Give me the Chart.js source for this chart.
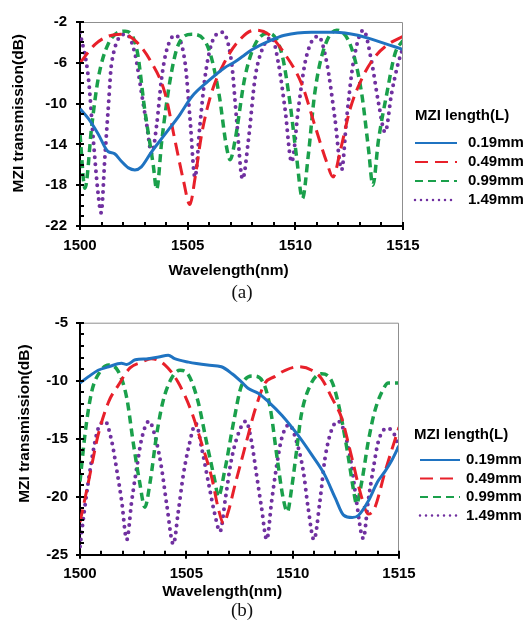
<!DOCTYPE html>
<html>
<head>
<meta charset="utf-8">
<script src="https://cdn.jsdelivr.net/npm/chart.js@4.4.1/dist/chart.umd.min.js"></script>
<style>
  body { margin: 0; background: #fff; width: 529px; height: 632px; position: relative; overflow: hidden; }
  canvas { position: absolute; left: 0; }
  #figA { top: 0; }
  #figB { top: 300px; }
  .cap { position: absolute; left: 211px; width: 62px; text-align: center;
         font: 19px/22px "Liberation Serif", "DejaVu Serif", serif; color: #111; }
</style>
</head>
<body>
<canvas id="figA" width="529" height="282"></canvas>
<canvas id="figB" width="529" height="300"></canvas>
<div class="cap" style="top:281px">(a)</div>
<div class="cap" style="top:599px">(b)</div>
<script>
const FONT = '"Liberation Sans", Arial, sans-serif';
const lengths = ['0.19mm', '0.49mm', '0.99mm', '1.49mm'];

// (a) wavelength (nm), transmission (dB)
const a019 = [[1500,-10.5],[1500.4,-11.5],[1500.85,-13.0],[1501.3,-14.7],[1501.6,-14.9],[1501.9,-15.6],
  [1502.25,-16.3],[1502.55,-16.5],[1502.85,-16.2],[1503.3,-14.8],[1503.95,-13.0],[1504.6,-11.2],
  [1505.2,-9.3],[1505.95,-7.8],[1506.7,-6.5],[1507.2,-5.9],[1507.6,-5.3],[1508.0,-4.7],[1508.75,-3.9],
  [1509.5,-3.3],[1510.75,-3.0],[1511.85,-3.0],[1512.9,-3.3],[1513.85,-3.9],[1515,-4.7]];
const a049 = [[1500,-6.0],[1500.7,-4.2],[1501.3,-3.4],[1501.9,-3.2],[1502.55,-3.8],[1503.3,-5.9],
  [1503.95,-9.0],[1504.4,-13.5],[1504.8,-17.5],[1505.1,-19.9],[1505.35,-17.2],[1505.65,-13.0],
  [1506.1,-9.0],[1506.7,-6.0],[1507.35,-3.9],[1508.1,-2.8],[1508.75,-3.2],[1509.5,-5.1],[1510.3,-8.1],
  [1510.9,-12.1],[1511.45,-15.7],[1511.75,-17.2],[1512.1,-14.5],[1512.55,-10.5],[1513.1,-7.5],
  [1513.7,-5.4],[1514.3,-4.2],[1515,-3.4]];
const a099 = [[1500,-13.0],[1500.23,-18.3],[1500.55,-12.1],[1500.85,-7.5],[1501.3,-4.2],[1502.1,-2.9],
  [1502.65,-4.8],[1503.0,-10.5],[1503.4,-16.0],[1503.56,-18.4],[1503.8,-13.6],[1504.2,-7.5],[1504.57,-4.2],
  [1505.2,-3.2],[1505.95,-4.5],[1506.45,-9.0],[1506.8,-14.2],[1506.97,-15.5],[1507.2,-13.6],[1507.65,-7.5],
  [1508.13,-4.2],[1508.75,-3.1],[1509.37,-5.1],[1509.75,-9.9],[1510.05,-15.1],[1510.33,-19.3],[1510.6,-15.1],
  [1510.9,-9.0],[1511.3,-4.8],[1511.92,-2.8],[1512.6,-4.5],[1513.08,-9.0],[1513.4,-14.5],[1513.6,-18.0],
  [1513.86,-13.6],[1514.25,-9.0],[1514.63,-5.1],[1515,-3.8]];
const a149 = [[1500,-3.0],[1500.39,-7.5],[1500.62,-13.6],[1500.85,-19.0],[1500.98,-20.7],[1501.16,-15.1],
  [1501.31,-10.5],[1501.47,-6.0],[1502.15,-3.2],[1502.55,-5.1],[1502.86,-9.0],[1503.1,-12.1],[1503.33,-14.9],
  [1503.56,-12.1],[1503.79,-7.5],[1504.02,-4.8],[1504.41,-3.3],[1504.88,-6.0],[1505.11,-11.5],[1505.34,-17.2],
  [1505.57,-12.1],[1505.8,-7.5],[1506.1,-4.2],[1506.58,-3.0],[1507.04,-6.0],[1507.27,-11.5],[1507.55,-17.4],
  [1507.82,-13.6],[1508.13,-7.5],[1508.44,-4.8],[1508.9,-3.5],[1509.21,-6.0],[1509.52,-10.5],[1509.83,-15.7],
  [1510.14,-10.5],[1510.45,-6.0],[1510.76,-3.9],[1511.07,-3.4],[1511.46,-6.0],[1511.84,-11.5],[1512.15,-16.5],
  [1512.38,-11.5],[1512.69,-6.0],[1513.16,-2.8],[1513.55,-6.0],[1513.86,-9.9],[1514.17,-12.8],[1514.47,-9.0],
  [1514.78,-6.0],[1515,-4.5]];

// (b)
const b019 = [[1500,-10.2],[1500.4,-9.65],[1500.85,-9.1],[1501.35,-8.8],[1501.95,-8.5],[1502.2,-8.6],
  [1502.6,-8.2],[1503.2,-8.1],[1503.7,-7.95],[1504.15,-7.8],[1504.45,-8.1],[1505.1,-8.4],[1506.0,-8.65],
  [1506.65,-8.8],[1507.15,-9.4],[1507.65,-10.2],[1507.9,-10.65],[1508.4,-11.1],[1508.85,-11.8],[1509.5,-13.0],
  [1510.25,-14.7],[1510.9,-16.4],[1511.5,-18.1],[1512.0,-20.1],[1512.4,-21.6],[1512.8,-21.8],[1513.1,-21.6],
  [1513.55,-20.4],[1514.0,-18.7],[1514.35,-17.8],[1514.65,-16.9],[1515,-15.6]];
const b049 = [[1500,-22.2],[1500.4,-18.7],[1500.85,-14.7],[1501.35,-11.8],[1501.8,-10.4],[1502.35,-8.9],
  [1502.9,-8.4],[1503.35,-8.1],[1504.0,-8.65],[1504.6,-10.1],[1505.25,-12.7],[1505.7,-15.3],[1506.2,-18.4],
  [1506.5,-21.0],[1506.75,-22.3],[1506.97,-21.3],[1507.3,-18.9],[1507.75,-15.8],[1508.25,-12.4],[1508.7,-10.2],
  [1509.15,-9.65],[1509.65,-9.1],[1510.25,-8.8],[1510.9,-9.1],[1511.35,-9.8],[1511.85,-11.5],[1512.3,-13.2],
  [1512.75,-16.4],[1513.25,-20.1],[1513.55,-21.5],[1513.85,-21.0],[1514.35,-17.8],[1515,-14.0]];
const b099 = [[1500,-18.7],[1500.25,-14.4],[1500.55,-10.95],[1500.95,-9.2],[1501.35,-8.65],[1501.8,-9.2],
  [1502.2,-11.5],[1502.5,-15.3],[1502.8,-18.7],[1503.05,-20.9],[1503.3,-18.7],[1503.6,-14.7],[1503.9,-11.8],
  [1504.3,-9.8],[1504.7,-9.1],[1505.1,-9.5],[1505.55,-11.8],[1505.95,-15.3],[1506.35,-18.7],[1506.5,-20.0],
  [1506.8,-17.8],[1507.25,-13.3],[1507.6,-10.4],[1508.15,-9.6],[1508.6,-10.1],[1508.95,-12.4],[1509.25,-16.4],
  [1509.55,-20.1],[1509.75,-21.3],[1509.95,-19.3],[1510.2,-15.8],[1510.4,-13.0],[1510.8,-10.5],[1511.35,-9.4],
  [1511.85,-10.1],[1512.2,-12.4],[1512.6,-16.4],[1512.85,-19.3],[1513.0,-20.6],[1513.25,-18.7],[1513.55,-15.3],
  [1513.85,-12.7],[1514.2,-10.95],[1514.5,-10.2],[1515,-10.2]];
const b149 = [[1500,-24.3],[1500.15,-22.0],[1500.39,-18.7],[1500.7,-15.3],[1500.86,-14.1],[1501.18,-13.5],
  [1501.5,-15.3],[1501.72,-17.6],[1501.96,-20.4],[1502.2,-23.7],[1502.43,-20.4],[1502.66,-17.6],[1502.9,-15.0],
  [1503.24,-13.5],[1503.6,-15.3],[1503.84,-17.6],[1504.08,-20.7],[1504.39,-24.1],[1504.62,-21.3],[1504.86,-18.1],
  [1505.1,-15.8],[1505.45,-13.7],[1505.72,-15.8],[1506.03,-18.7],[1506.35,-21.6],[1506.58,-23.0],[1506.85,-20.0],
  [1507.1,-17.0],[1507.4,-14.8],[1507.8,-13.5],[1508.07,-15.3],[1508.3,-18.1],[1508.54,-21.0],[1508.78,-23.7],
  [1509.01,-20.4],[1509.25,-17.3],[1509.48,-15.0],[1509.83,-13.8],[1510.19,-15.3],[1510.5,-17.8],[1510.73,-21.0],
  [1511.0,-23.7],[1511.28,-20.4],[1511.52,-16.7],[1511.83,-14.25],[1512.14,-13.5],[1512.46,-14.6],[1512.77,-17.3],
  [1513.0,-20.4],[1513.32,-23.6],[1513.55,-20.4],[1513.79,-17.6],[1514.02,-15.3],[1514.42,-14.1],[1514.8,-14.7],
  [1515,-16.0]];

const looks = [
  { borderColor: '#1f73c1', borderWidth: 3, borderDash: [] },
  { borderColor: '#e8202a', borderWidth: 3, borderDash: [13, 7] },
  { borderColor: '#1aa04b', borderWidth: 3.5, borderDash: [8, 5] },
  { borderColor: '#7030a0', borderWidth: 4, borderDash: [0, 7], borderCapStyle: 'round' },
];

// minor ticks + grey frame (Excel style)
const axisTicks = {
  id: 'axisTicks',
  afterDatasetsDraw(chart) {
    const { ctx, chartArea: a, scales: { x, y } } = chart;
    ctx.save();
    ctx.strokeStyle = '#8f8f8f';
    ctx.lineWidth = 1;
    ctx.beginPath();
    ctx.moveTo(a.left, a.top + 0.5);
    ctx.lineTo(a.right - 0.5, a.top + 0.5);
    ctx.lineTo(a.right - 0.5, a.bottom);
    ctx.stroke();
    ctx.strokeStyle = '#000';
    ctx.lineWidth = 2;
    ctx.beginPath();
    for (let v = x.min; v <= x.max; v++) {
      const px = Math.round(x.getPixelForValue(v));
      const major = (v - x.min) % x.options.ticks.stepSize === 0;
      ctx.moveTo(px, a.bottom - 4);
      ctx.lineTo(px, a.bottom + (major ? 4 : 0));
    }
    for (let v = y.min; v <= y.max; v++) {
      const py = Math.round(y.getPixelForValue(v));
      const major = (v - y.min) % y.options.ticks.stepSize === 0;
      ctx.moveTo(a.left - (major ? 4 : 0), py);
      ctx.lineTo(a.left + 4, py);
    }
    ctx.stroke();
    ctx.restore();
  }
};

const sideLegend = {
  id: 'sideLegend',
  afterDraw(chart, args, o) {
    const ctx = chart.ctx;
    ctx.save();
    ctx.fillStyle = '#000';
    ctx.textBaseline = 'middle';
    ctx.font = 'bold 15px ' + FONT;
    ctx.fillText(o.title, o.titleX, o.titleY);
    chart.data.datasets.forEach((ds, i) => {
      const y = o.y + i * o.step;
      ctx.beginPath();
      ctx.strokeStyle = ds.borderColor;
      ctx.lineWidth = ds.borderCapStyle === 'round' ? 2.5 : 2;
      ctx.lineCap = ds.borderCapStyle || 'butt';
      ctx.setLineDash(ds.borderCapStyle === 'round' ? [0, 6] : ds.borderDash);
      ctx.moveTo(o.x, y);
      ctx.lineTo(o.x + o.len, y);
      ctx.stroke();
      ctx.setLineDash([]);
      ctx.fillText(ds.label, o.x + o.len + o.gap, y);
    });
    ctx.restore();
  }
};

function makeChart(id, series, c) {
  return new Chart(document.getElementById(id), {
    type: 'line',
    data: {
      datasets: series.map((d, i) => Object.assign({
        label: lengths[i],
        data: d,
        pointRadius: 0,
        fill: false,
        cubicInterpolationMode: 'monotone'
      }, looks[i]))
    },
    options: {
      responsive: false,
      animation: false,
      events: [],
      layout: { padding: { top: c.top, right: c.right, left: 0, bottom: 0 } },
      scales: {
        x: {
          type: 'linear', min: 1500, max: 1515,
          ticks: { stepSize: 5, padding: c.xPad, color: '#000', callback: v => String(v),
                   font: { family: FONT, size: 15, weight: 'bold' } },
          grid: { display: false, drawTicks: false },
          border: { display: true, color: '#000', width: 2 },
          title: { display: true, text: 'Wavelength(nm)' + ' '.repeat(c.xShift), color: '#000',
                   font: { family: FONT, size: 15.5, weight: 'bold', lineHeight: 1 },
                   padding: { top: 0, bottom: c.xTitlePad } },
          afterFit: s => { s.height = c.xHeight; }
        },
        y: {
          min: c.yMin, max: c.yMax,
          ticks: { stepSize: c.yStep, padding: c.yPad, color: '#000', font: { family: FONT, size: 15, weight: 'bold' } },
          grid: { display: false, drawTicks: false },
          border: { display: true, color: '#000', width: 2 },
          title: { display: true, text: ' '.repeat(c.yShift) + 'MZI transmission(dB)', color: '#000',
                   font: { family: FONT, size: 15.5, weight: 'bold', lineHeight: 1 },
                   padding: { top: c.yTitlePad, bottom: 0 } },
          afterFit: s => { s.width = 80; }
        }
      },
      plugins: {
        legend: { display: false },
        tooltip: { enabled: false },
        sideLegend: c.legend
      }
    },
    plugins: [axisTicks, sideLegend]
  });
}

makeChart('figA', [a019, a049, a099, a149], {
  top: 6, right: 126, xHeight: 56, xPad: 11, xTitlePad: 4, xShift: 6,
  yMin: -22, yMax: -2, yStep: 4, yPad: 13, yTitlePad: 11, yShift: 5,
  legend: { title: 'MZI length(L)', titleX: 415, titleY: 116, x: 415, y: 143, step: 19, len: 42, gap: 11 }
});

makeChart('figB', [b019, b049, b099, b149], {
  top: 22.7, right: 130, xHeight: 45.3, xPad: 10, xTitlePad: 0.5, xShift: 8,
  yMin: -25, yMax: -5, yStep: 5, yPad: 12, yTitlePad: 17, yShift: 7,
  legend: { title: 'MZI length(L)', titleX: 414, titleY: 135, x: 420, y: 160, step: 18.5, len: 40, gap: 6 }
});
</script>
</body>
</html>
